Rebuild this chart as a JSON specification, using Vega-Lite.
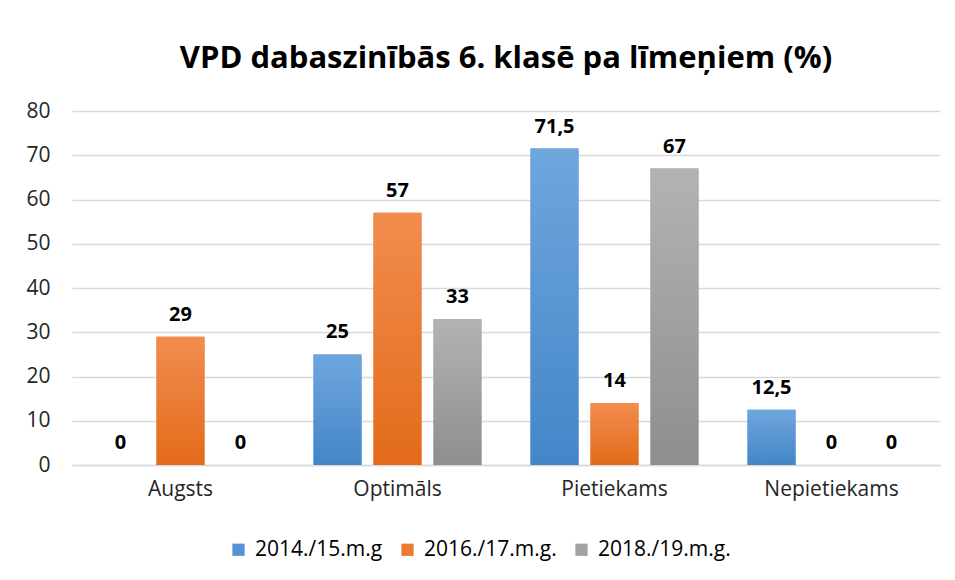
{
  "$schema": "https://vega.github.io/schema/vega-lite/v6.json",
  "width": 868,
  "height": 354,
  "autosize": {"type": "none"},
  "padding": {"left": 72, "top": 111, "right": 15, "bottom": 115},
  "background": "white",
  "config": {"view": {"stroke": null}},
  "title": {
    "text": "VPD dabaszinībās 6. klasē pa līmeņiem (%)",
    "fontSize": 31,
    "font": "Open Sans",
    "fontWeight": "bold",
    "color": "#000000",
    "anchor": "middle",
    "offset": 25
  },
  "data": {
    "values": [
      {"limenis": "Augsts", "gads": "2014./15.m.g", "vertiba": 0, "teksts": "0"},
      {"limenis": "Augsts", "gads": "2016./17.m.g.", "vertiba": 29, "teksts": "29"},
      {"limenis": "Augsts", "gads": "2018./19.m.g.", "vertiba": 0, "teksts": "0"},
      {"limenis": "Optimāls", "gads": "2014./15.m.g", "vertiba": 25, "teksts": "25"},
      {"limenis": "Optimāls", "gads": "2016./17.m.g.", "vertiba": 57, "teksts": "57"},
      {"limenis": "Optimāls", "gads": "2018./19.m.g.", "vertiba": 33, "teksts": "33"},
      {"limenis": "Pietiekams", "gads": "2014./15.m.g", "vertiba": 71.5, "teksts": "71,5"},
      {"limenis": "Pietiekams", "gads": "2016./17.m.g.", "vertiba": 14, "teksts": "14"},
      {"limenis": "Pietiekams", "gads": "2018./19.m.g.", "vertiba": 67, "teksts": "67"},
      {"limenis": "Nepietiekams", "gads": "2014./15.m.g", "vertiba": 12.5, "teksts": "12,5"},
      {"limenis": "Nepietiekams", "gads": "2016./17.m.g.", "vertiba": 0, "teksts": "0"},
      {"limenis": "Nepietiekams", "gads": "2018./19.m.g.", "vertiba": 0, "teksts": "0"}
    ]
  },
  "encoding": {
    "x": {
      "field": "limenis",
      "type": "nominal",
      "sort": ["Augsts", "Optimāls", "Pietiekams", "Nepietiekams"],
      "scale": {"paddingInner": 0.226, "paddingOuter": 0.113},
      "axis": {
        "title": null,
        "labelAngle": 0,
        "labelFontSize": 21,
        "labelFont": "Open Sans",
        "labelColor": "#262626",
        "labelPadding": 13,
        "ticks": false,
        "domainColor": "#d9d9d9",
        "domainWidth": 1.5
      }
    },
    "xOffset": {
      "field": "gads",
      "type": "nominal",
      "sort": ["2014./15.m.g", "2016./17.m.g.", "2018./19.m.g."],
      "scale": {"paddingInner": 0.2, "paddingOuter": 0}
    },
    "y": {
      "field": "vertiba",
      "type": "quantitative",
      "scale": {"domain": [0, 80], "nice": false},
      "axis": {
        "title": null,
        "values": [0, 10, 20, 30, 40, 50, 60, 70, 80],
        "labelFontSize": 21,
        "labelFont": "Open Sans",
        "labelColor": "#262626",
        "labelPadding": 22,
        "ticks": false,
        "domain": false,
        "gridColor": "#d9d9d9",
        "gridWidth": 1.5
      }
    }
  },
  "layer": [
    {
      "mark": {"type": "bar"},
      "encoding": {
        "color": {
          "field": "gads",
          "type": "nominal",
          "sort": ["2014./15.m.g", "2016./17.m.g.", "2018./19.m.g."],
          "scale": {"range": ["#5592d4", "#ec7a30", "#a2a2a2"]},
          "legend": {
            "title": null,
            "orient": "none",
            "legendX": 156,
            "legendY": 428,
            "direction": "horizontal",
            "symbolType": "square",
            "symbolSize": 150,
            "symbolStrokeWidth": 0,
            "symbolOpacity": 1,
            "labelFontSize": 21,
            "labelFont": "Open Sans",
            "labelColor": "#000000",
            "columnPadding": 14,
            "labelOffset": 6
          }
        }
      }
    },
    {
      "transform": [{"filter": "datum.gads === '2014./15.m.g'"}],
      "mark": {
        "type": "bar",
        "opacity": 1,
        "color": {"gradient": "linear", "x1": 0, "y1": 0, "x2": 0, "y2": 1, "stops": [{"offset": 0, "color": "#6fa6de"}, {"offset": 1, "color": "#4386c8"}]}
      }
    },
    {
      "transform": [{"filter": "datum.gads === '2016./17.m.g.'"}],
      "mark": {
        "type": "bar",
        "opacity": 1,
        "color": {"gradient": "linear", "x1": 0, "y1": 0, "x2": 0, "y2": 1, "stops": [{"offset": 0, "color": "#f28c4f"}, {"offset": 1, "color": "#e26b1a"}]}
      }
    },
    {
      "transform": [{"filter": "datum.gads === '2018./19.m.g.'"}],
      "mark": {
        "type": "bar",
        "opacity": 1,
        "color": {"gradient": "linear", "x1": 0, "y1": 0, "x2": 0, "y2": 1, "stops": [{"offset": 0, "color": "#b3b3b3"}, {"offset": 1, "color": "#8e8e8e"}]}
      }
    },
    {
      "mark": {
        "type": "text",
        "baseline": "bottom",
        "dy": -12,
        "fontSize": 20,
        "font": "Open Sans",
        "fontWeight": "bold",
        "color": "#000000"
      },
      "encoding": {"text": {"field": "teksts", "type": "nominal"}}
    }
  ]
}
